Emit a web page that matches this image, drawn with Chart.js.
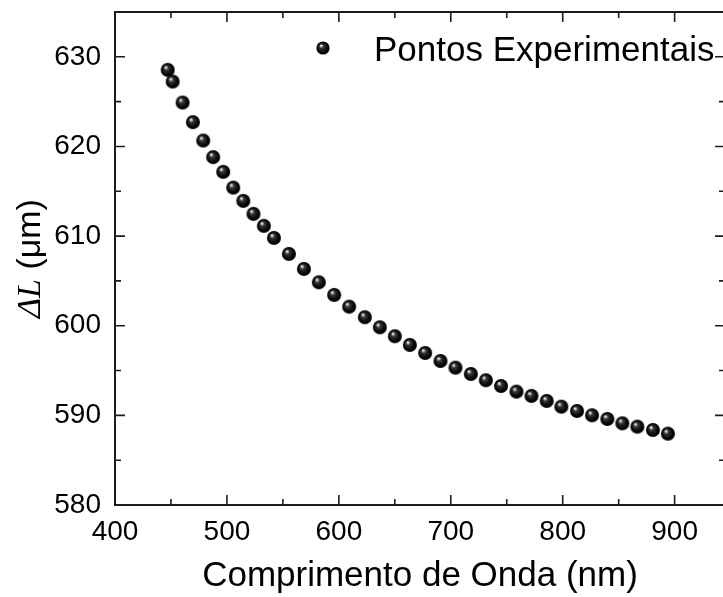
<!DOCTYPE html>
<html>
<head>
<meta charset="utf-8">
<script src="https://cdn.jsdelivr.net/npm/chart.js@4.4.1/dist/chart.umd.min.js"></script>
<style>
  html, body { margin: 0; padding: 0; background: #fff; overflow: hidden; }
  #wrap { width: 740px; height: 597px; }
</style>
</head>
<body>
<div id="wrap"><canvas id="c" width="740" height="597"></canvas></div>
<script>
// Optical path difference vs. wavelength
const wavelength = [
  447.1, 451.5, 460.4, 469.6, 478.8, 487.7, 496.7, 505.6, 514.6, 523.7,
  533.0, 542.0, 555.4, 568.8, 582.1, 595.8, 609.2, 623.2, 636.6, 650.0,
  663.4, 677.1, 690.8, 704.2, 717.9, 731.3, 744.9, 758.7, 772.1, 785.7,
  798.8, 812.8, 826.2, 839.9, 853.3, 866.7, 880.6, 894.0
];
const deltaL = [
  628.55, 627.24, 624.90, 622.71, 620.66, 618.81, 617.17, 615.41, 613.93, 612.48,
  611.14, 609.80, 608.01, 606.34, 604.85, 603.44, 602.13, 600.95, 599.83, 598.83,
  597.86, 596.96, 596.07, 595.32, 594.62, 593.92, 593.28, 592.65, 592.17, 591.61,
  590.97, 590.49, 590.01, 589.60, 589.12, 588.74, 588.37, 587.96
];
const xTickValues = [400, 500, 600, 700, 800, 900];
const yTickValues = [580, 590, 600, 610, 620, 630];
const seriesName = 'Pontos Experimentais';
const xTitle = 'Comprimento de Onda (nm)';
const yTitleSymbol = 'ΔL';
const yTitleUnit = ' (μm)';

const SANS = '"Liberation Sans", Arial, sans-serif';
const SERIF = '"Liberation Serif", "Times New Roman", serif';
const INK = '#1c1c1c';

// shaded black sphere used as marker
function makeBall(r) {
  const size = Math.ceil(2 * r + 2);
  const cv = document.createElement('canvas');
  cv.width = size; cv.height = size;
  const g = cv.getContext('2d');
  const c = size / 2;
  const grad = g.createRadialGradient(c - r * 0.32, c - r * 0.4, 0, c, c, r);
  grad.addColorStop(0, '#ffffff');
  grad.addColorStop(0.1, '#d8d8d8');
  grad.addColorStop(0.32, '#383838');
  grad.addColorStop(0.75, '#060606');
  grad.addColorStop(1, '#000000');
  g.beginPath();
  g.arc(c, c, r, 0, Math.PI * 2);
  g.fillStyle = grad;
  g.fill();
  return cv;
}
const ball = makeBall(7);
const legendBall = makeBall(6.6);

const data = wavelength.map((w, i) => ({ x: w, y: deltaL[i] }));

// inward ticks on all four sides plus the frame
const framePlugin = {
  id: 'frame',
  afterDatasetsDraw(chart) {
    const { ctx, chartArea: a, scales: { x, y } } = chart;
    ctx.save();
    ctx.strokeStyle = INK;
    ctx.lineWidth = 2;
    ctx.beginPath();
    ctx.moveTo(a.left, a.top); ctx.lineTo(a.right, a.top);
    ctx.lineTo(a.right, a.bottom); ctx.lineTo(a.left, a.bottom);
    ctx.closePath();
    ctx.stroke();

    ctx.lineWidth = 1.6;
    const major = 10, minor = 6;
    const xs = x.ticks.map(t => t.value);
    const ys = y.ticks.map(t => t.value);
    const xStep = xs[1] - xs[0], yStep = ys[1] - ys[0];
    const xMinor = xs.map(v => v + xStep / 2).filter(v => v < x.max);
    const yMinor = ys.map(v => v + yStep / 2).filter(v => v < y.max);
    ctx.beginPath();
    const xt = (v, len) => {
      const px = x.getPixelForValue(v);
      ctx.moveTo(px, a.bottom); ctx.lineTo(px, a.bottom - len);
      ctx.moveTo(px, a.top); ctx.lineTo(px, a.top + len);
    };
    const yt = (v, len) => {
      const py = y.getPixelForValue(v);
      ctx.moveTo(a.left, py); ctx.lineTo(a.left + len, py);
      ctx.moveTo(a.right, py); ctx.lineTo(a.right - len, py);
    };
    xs.forEach(v => xt(v, major));
    xMinor.forEach(v => xt(v, minor));
    ys.forEach(v => yt(v, major));
    yMinor.forEach(v => yt(v, minor));
    ctx.stroke();
    ctx.restore();
  }
};

// y title with italic symbol, and the in-plot legend
const labelsPlugin = {
  id: 'labels',
  afterDraw(chart) {
    const { ctx, chartArea: a } = chart;
    ctx.save();
    const fs = 34;
    const fSym = 'italic ' + fs + 'px ' + SERIF;
    const fUnit = fs + 'px ' + SANS;
    ctx.font = fSym; const w1 = ctx.measureText(yTitleSymbol).width;
    ctx.font = fUnit; const w2 = ctx.measureText(yTitleUnit).width;
    const cy = (a.top + a.bottom) / 2;
    ctx.translate(40, cy);
    ctx.rotate(-Math.PI / 2);
    ctx.fillStyle = '#000';
    ctx.textBaseline = 'alphabetic';
    ctx.textAlign = 'left';
    const sx = -(w1 + w2) / 2;
    ctx.font = fSym; ctx.fillText(yTitleSymbol, sx, 0);
    ctx.font = fUnit; ctx.fillText(yTitleUnit, sx + w1, 0);
    ctx.restore();

    // legend
    ctx.save();
    const bx = a.left + 208, by = a.top + 36;
    ctx.drawImage(legendBall, bx - legendBall.width / 2, by - legendBall.height / 2);
    ctx.font = '35px ' + SANS;
    ctx.fillStyle = '#000';
    ctx.textBaseline = 'alphabetic';
    ctx.fillText(seriesName, a.left + 259, a.top + 49);
    ctx.restore();
  }
};

new Chart(document.getElementById('c'), {
  type: 'scatter',
  data: {
    datasets: [{
      label: seriesName,
      data: data,
      pointStyle: ball,
      pointRadius: 7,
      pointHoverRadius: 7
    }]
  },
  options: {
    responsive: false,
    devicePixelRatio: 1,
    animation: false,
    events: [],
    layout: { padding: { top: 12, right: 15, left: 0, bottom: 0 } },
    plugins: { legend: { display: false }, tooltip: { enabled: false } },
    scales: {
      x: {
        type: 'linear',
        min: 400, max: 945,
        afterBuildTicks: s => { s.ticks = xTickValues.map(v => ({ value: v })); },
        afterFit: s => { s.height = 92; s.paddingLeft = 0; s.paddingRight = 0; },
        grid: { display: false, drawTicks: false },
        border: { display: false },
        ticks: { color: '#000', padding: 10, font: { family: SANS, size: 28 }, maxRotation: 0 },
        title: { display: true, text: xTitle, color: '#000', font: { family: SANS, size: 35 }, padding: { top: 0, bottom: 0 } }
      },
      y: {
        type: 'linear',
        min: 580, max: 635,
        afterBuildTicks: s => { s.ticks = yTickValues.map(v => ({ value: v })); },
        afterFit: s => { s.width = 115; s.paddingTop = 0; s.paddingBottom = 0; },
        grid: { display: false, drawTicks: false },
        border: { display: false },
        ticks: { color: '#000', padding: 14, font: { family: SANS, size: 28 } }
      }
    }
  },
  plugins: [framePlugin, labelsPlugin]
});
</script>
</body>
</html>
